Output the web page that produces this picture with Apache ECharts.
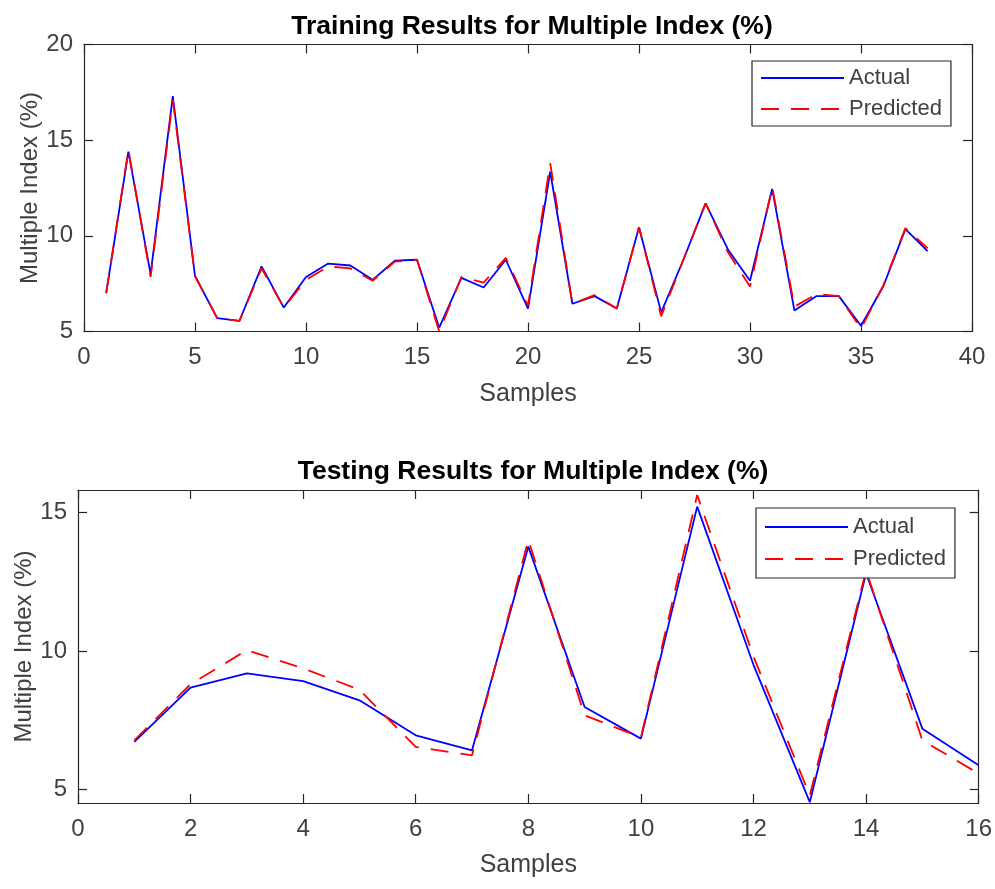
<!DOCTYPE html>
<html>
<head>
<meta charset="utf-8">
<script src="https://cdn.jsdelivr.net/npm/echarts@6/dist/echarts.min.js"></script>
<style>
html,body{margin:0;padding:0;background:#fff;}
#chart{width:995px;height:889px;}
</style>
</head>
<body>
<div id="chart"></div>
<script>
// ---- data ----
const trainSamples = [1,2,3,4,5,6,7,8,9,10,11,12,13,14,15,16,17,18,19,20,21,22,23,24,25,26,27,28,29,30,31,32,33,34,35,36,37,38];
const trainActual = [7.0,14.4,8.0,17.3,7.9,5.7,5.55,8.4,6.25,7.85,8.55,8.45,7.7,8.7,8.75,5.2,7.8,7.3,8.75,6.2,13.35,6.45,6.85,6.2,10.45,6.0,8.75,11.7,9.3,7.65,12.45,6.1,6.85,6.85,5.3,7.35,10.35,9.2];
const trainPredicted = [7.0,14.5,7.85,17.1,7.9,5.7,5.55,8.3,6.25,7.7,8.4,8.3,7.65,8.65,8.75,5.0,7.85,7.55,8.85,6.35,13.8,6.45,6.9,6.2,10.45,5.8,8.75,11.7,9.15,7.35,12.55,6.3,6.95,6.85,5.15,7.4,10.4,9.35];

const testSamples = [1,2,3,4,5,6,7,8,9,10,11,12,13,14,15,16];
const testActual = [6.72,8.68,9.19,8.91,8.22,6.96,6.42,13.76,7.98,6.84,15.2,9.5,4.55,12.8,7.2,5.88];
const testPredicted = [6.78,8.8,10.03,9.37,8.6,6.54,6.24,14.0,7.68,6.88,15.62,9.8,4.79,12.9,6.78,5.58];

const trainTitle = 'Training Results for Multiple Index (%)';
const testTitle = 'Testing Results for Multiple Index (%)';
const xName = 'Samples';
const yName = 'Multiple Index (%)';
const testYTicks = [5, 10, 15];

// ---- build ----
const FONT = '"Liberation Sans", Arial, Helvetica, sans-serif';
const AX = '#262626';
const TXT = '#404040';
function pairs(xs, ys){ return xs.map((x,i)=>[x, ys[i]]); }

function mainX(grid, min, max, interval){
  return {
    type:'value', gridIndex:grid, min:min, max:max, interval:interval, position:'bottom',
    name:xName, nameLocation:'middle', nameGap:50, nameMoveOverlap:false,
    nameTextStyle:{fontFamily:FONT, fontSize:25, color:TXT},
    axisLine:{show:true, onZero:false, lineStyle:{color:AX, width:1.2}},
    axisTick:{show:true, inside:true, length:9, lineStyle:{color:AX, width:1.2}},
    axisLabel:{margin:14, fontFamily:FONT, fontSize:24, color:TXT},
    splitLine:{show:false}
  };
}
function mirrorX(grid, min, max, interval){
  return {
    type:'value', gridIndex:grid, min:min, max:max, interval:interval, position:'top',
    axisLine:{show:true, onZero:false, lineStyle:{color:AX, width:1.2}},
    axisTick:{show:true, inside:true, length:9, lineStyle:{color:AX, width:1.2}},
    axisLabel:{show:false}, splitLine:{show:false}
  };
}
function legendAt(left, top, gap, pad){
  return {left:left, top:top, orient:'vertical', data:['Actual','Predicted'],
    itemWidth:83, itemHeight:1.5, itemGap:gap, padding:pad,
    backgroundColor:'#fff', borderColor:AX, borderWidth:1.2, borderRadius:0,
    textStyle:{fontFamily:FONT, fontSize:22, color:TXT, lineHeight:22}};
}

const option = {
  animation:false,
  backgroundColor:'#fff',
  title:[
    {text:trainTitle, left:527, top:8, textAlign:'center',
     textStyle:{fontFamily:FONT, fontSize:26.5, fontWeight:'bold', color:'#000'}},
    {text:testTitle, left:528, top:453, textAlign:'center',
     textStyle:{fontFamily:FONT, fontSize:26.5, fontWeight:'bold', color:'#000'}}
  ],
  legend:[
    legendAt(752, 61, 9, [6,9,6,8]),
    legendAt(756, 508, 10, [8,9,8,8])
  ],
  grid:[
    {left:84, right:23, top:44.5, bottom:557.5},
    {left:78, right:16, top:490, bottom:86}
  ],
  xAxis:[
    mainX(0, 0, 40, 5), mirrorX(0, 0, 40, 5),
    mainX(1, 0, 16, 2), mirrorX(1, 0, 16, 2)
  ],
  yAxis:[
    {type:'value', gridIndex:0, min:5, max:20, interval:5, position:'left',
     name:yName, nameLocation:'middle', nameGap:42, nameRotate:90, nameMoveOverlap:false,
     nameTextStyle:{fontFamily:FONT, fontSize:24, color:TXT},
     axisLine:{show:true, onZero:false, lineStyle:{color:AX, width:1.2}},
     axisTick:{show:true, inside:true, length:9, lineStyle:{color:AX, width:1.2}},
     axisLabel:{margin:11, fontFamily:FONT, fontSize:24, color:TXT},
     splitLine:{show:false}},
    {type:'value', gridIndex:0, min:5, max:20, interval:5, position:'right',
     axisLine:{show:true, onZero:false, lineStyle:{color:AX, width:1.2}},
     axisTick:{show:true, inside:true, length:9, lineStyle:{color:AX, width:1.2}},
     axisLabel:{show:false}, splitLine:{show:false}},
    {type:'value', gridIndex:1, min:4.52, max:15.8, position:'left',
     name:yName, nameLocation:'middle', nameGap:42, nameRotate:90, nameMoveOverlap:false,
     nameTextStyle:{fontFamily:FONT, fontSize:24, color:TXT},
     axisLine:{show:true, onZero:false, lineStyle:{color:AX, width:1.2}},
     axisTick:{show:true, inside:true, length:9, customValues:testYTicks, lineStyle:{color:AX, width:1.2}},
     axisLabel:{margin:11, fontFamily:FONT, fontSize:24, color:TXT, customValues:testYTicks},
     splitLine:{show:false}},
    {type:'value', gridIndex:1, min:4.52, max:15.8, position:'right',
     axisLine:{show:true, onZero:false, lineStyle:{color:AX, width:1.2}},
     axisTick:{show:true, inside:true, length:9, customValues:testYTicks, lineStyle:{color:AX, width:1.2}},
     axisLabel:{show:false}, splitLine:{show:false}}
  ],
  series:[
    {name:'Actual', type:'line', xAxisIndex:0, yAxisIndex:0, data:pairs(trainSamples, trainActual),
     symbol:'none', color:'#0000ff', lineStyle:{color:'#0000ff', width:1.8, type:'solid'}, z:2},
    {name:'Predicted', type:'line', xAxisIndex:0, yAxisIndex:0, data:pairs(trainSamples, trainPredicted),
     symbol:'none', color:'#ff0000', lineStyle:{color:'#ff0000', width:1.8, type:[18,12]}, z:3},
    {name:'Actual', type:'line', xAxisIndex:2, yAxisIndex:2, data:pairs(testSamples, testActual),
     symbol:'none', color:'#0000ff', lineStyle:{color:'#0000ff', width:1.8, type:'solid'}, z:2},
    {name:'Predicted', type:'line', xAxisIndex:2, yAxisIndex:2, data:pairs(testSamples, testPredicted),
     symbol:'none', color:'#ff0000', lineStyle:{color:'#ff0000', width:1.8, type:[18,12]}, z:3}
  ]
};
const chart = echarts.init(document.getElementById('chart'), null, {renderer:'canvas'});
chart.setOption(option);
</script>
</body>
</html>
